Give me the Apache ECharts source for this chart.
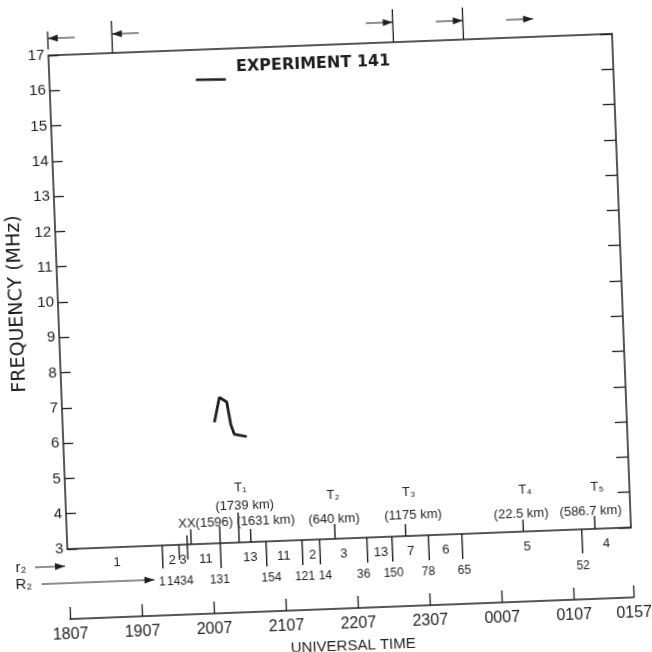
<!DOCTYPE html>
<html><head><meta charset="utf-8">
<script src="https://cdn.jsdelivr.net/npm/echarts@6/dist/echarts.min.js"></script>
<style>
html,body{margin:0;padding:0;background:#fff;overflow:hidden;width:652px;height:652px;position:relative}
#c{position:absolute;left:-24px;top:-24px;width:700px;height:700px;transform:rotate(-2.2deg);transform-origin:350px 350px;}
</style>
</head><body><div id="c"></div>
<script>
// ---------- DATA (time = minutes after 1807 UT, frequency in MHz) ----------
const timeTicks = [0, 60, 120, 180, 240, 300, 360, 420, 470];
const timeTickLabels = ['1807', '1907', '2007', '2107', '2207', '2307', '0007', '0107', '0157'];
const freqMin = 3, freqMax = 17;

const traceHigh = [[122, 16.15], [147, 16.13]];
const traceLow = [[126.5, 6.43], [131.4, 7.13], [137.4, 6.99], [140.1, 6.34], [142.7, 6.07], [153, 5.99]];

const divTimes = [79, 93, 100, 127.5, 165.6, 195.6, 210.3, 249.7, 270.6, 301.1, 328.9, 428.9];
const divLabelTimes = [78, 87.5, 98.5, 126, 169, 197, 214, 246, 271, 300, 330, 429];
const divLabels = ['1', '14', '34', '131', '154', '121', '14', '36', '150', '78', '65', '52'];

const segLabelTimes = [41, 87, 96, 115, 152, 180, 204, 230, 261, 286, 315, 383, 449];
const segLabels = ['1', '2', '3', '11', '13', '11', '2', '3', '13', '7', '6', '5', '4'];

const upTickTimes = [100, 103.3, 127.5, 143.3, 153.1, 223.3, 282.2, 380.3, 440];

const eventLabelTimes = [116, 146, 149, 166, 223, 223, 286, 289, 383, 379, 443, 437];
const eventLabels = ['XX(1596)', 'T₁', '(1739 km)', '(1631 km)', 'T₂', '(640 km)', 'T₃', '(1175 km)', 'T₄', '(22.5 km)', 'T₅', '(586.7 km)'];

const topMarkTimes = [0, 53.5, 287.8, 346.2, 404.8];
const topMarkDirs = ['left', 'left', 'right', 'right', 'right'];
const topMarkHasTick = [true, true, true, true, false];

const sideArrowTimes = [0, 74];
const sideArrowLabels = ['r₂', 'R₂'];

// ---------- STYLE ----------
const INK = '#1e1e1e';
const FONT = "'Liberation Sans', 'DejaVu Sans', sans-serif";
const divLen = [23, 15, 15, 25, 25, 25, 25, 25, 25, 25, 25, 24];
const upTickLen = [9, 15, 17, 30, 13, 15, 12, 12, 13];
const eventLabelRise = [21, 55, 37, 21, 44, 20, 44, 21, 42, 18, 42, 18];
const topTickSpan = [[6, 24], [0, 32], [0, 33], [0, 32], null];
const topArrowRise = [17, 19, 20, 19, 18];
const sideArrowDrop = [17, 34];
const sideArrowStart = [33, 27];
const sideLabelOffset = [47, 45];

function txt(x, y, text, size, align) {
  return { type: 'text', x: x, y: y, style: { text: text, fill: INK, fontSize: size, fontFamily: FONT, align: align || 'center', verticalAlign: 'middle' } };
}
function arrowHead(tipX, y, dir) {
  const s = dir === 'left' ? 1 : -1;
  return { type: 'polygon', shape: { points: [[tipX, y], [tipX + s * 10, y - 3.5], [tipX + s * 10, y + 3.5]] }, style: { fill: INK } };
}

const chart = echarts.init(document.getElementById('c'), null, { renderer: 'canvas' });
const option = {
  animation: false,
  backgroundColor: '#fff',
  title: {
    text: 'EXPERIMENT 141', left: 265, top: 75,
    textStyle: { fontFamily: "'DejaVu Sans', sans-serif", fontWeight: 'bold', fontSize: 16, color: INK }
  },
  grid: { left: 83, right: 53, top: 69, bottom: 137, outerBoundsMode: 'none', containLabel: false },
  xAxis: [
    {
      type: 'value', min: 0, max: 470, position: 'bottom', offset: 70,
      axisLine: { show: true, onZero: false, lineStyle: { color: INK, width: 1.5 } },
      axisTick: { show: true, inside: true, length: 12, customValues: timeTicks, lineStyle: { color: INK, width: 1.3 } },
      axisLabel: { show: true, customValues: timeTicks, margin: 8, fontSize: 16, fontFamily: FONT, color: INK,
        formatter: v => { const i = timeTicks.indexOf(v); return i >= 0 ? timeTickLabels[i] : ''; } },
      splitLine: { show: false },
      name: 'UNIVERSAL TIME', nameLocation: 'middle', nameGap: 30,
      nameTextStyle: { fontSize: 15, fontFamily: FONT, color: INK }
    },
    {
      type: 'value', min: 0, max: 470, position: 'bottom', offset: 0,
      axisLine: { show: true, onZero: false, lineStyle: { color: INK, width: 1.5 } },
      axisTick: { show: false }, axisLabel: { show: false }, splitLine: { show: false }
    },
    {
      type: 'value', min: 0, max: 470, position: 'top',
      axisLine: { show: true, onZero: false, lineStyle: { color: INK, width: 1.5 } },
      axisTick: { show: false }, axisLabel: { show: false }, splitLine: { show: false }
    }
  ],
  yAxis: [
    {
      type: 'value', min: freqMin, max: freqMax, interval: 1, position: 'left',
      axisLine: { show: true, onZero: false, lineStyle: { color: INK, width: 1.5 } },
      axisTick: { show: true, inside: true, length: 10, lineStyle: { color: INK, width: 1.3 } },
      axisLabel: { show: true, margin: 4, fontSize: 15, fontFamily: FONT, color: INK },
      splitLine: { show: false },
      name: 'FREQUENCY (MHz)', nameLocation: 'middle', nameRotate: 90, nameGap: 20,
      nameTextStyle: { fontSize: 19, fontFamily: "'DejaVu Sans', sans-serif", color: INK }
    },
    {
      type: 'value', min: freqMin, max: freqMax, interval: 1, position: 'right',
      axisLine: { show: true, onZero: false, lineStyle: { color: INK, width: 1.5 } },
      axisTick: { show: true, inside: true, length: 12, lineStyle: { color: INK, width: 1.3 } },
      axisLabel: { show: false }, splitLine: { show: false }
    }
  ],
  series: [
    { type: 'line', data: traceHigh, showSymbol: false, lineStyle: { color: INK, width: 2.5 }, xAxisIndex: 0, yAxisIndex: 0 },
    { type: 'line', data: traceLow, showSymbol: false, lineStyle: { color: INK, width: 2.8 }, xAxisIndex: 0, yAxisIndex: 0 },
    { // segment dividers hanging below the r2 baseline
      type: 'custom', xAxisIndex: 0, yAxisIndex: 0, clip: false, silent: true,
      data: divTimes.map(t => [t, freqMin]),
      renderItem: (params, api) => {
        const p = api.coord([api.value(0), freqMin]);
        return { type: 'line', shape: { x1: p[0], y1: p[1], x2: p[0], y2: p[1] + divLen[params.dataIndex] }, style: { stroke: INK, lineWidth: 1.4 } };
      }
    },
    { // labels under dividers
      type: 'custom', xAxisIndex: 0, yAxisIndex: 0, clip: false, silent: true,
      data: divLabelTimes.map(t => [t, freqMin]),
      renderItem: (params, api) => {
        const p = api.coord([api.value(0), freqMin]);
        return txt(p[0], p[1] + 37, divLabels[params.dataIndex], 12);
      }
    },
    { // labels within segments
      type: 'custom', xAxisIndex: 0, yAxisIndex: 0, clip: false, silent: true,
      data: segLabelTimes.map(t => [t, freqMin]),
      renderItem: (params, api) => {
        const p = api.coord([api.value(0), freqMin]);
        return txt(p[0], p[1] + 15, segLabels[params.dataIndex], 13);
      }
    },
    { // upward event ticks
      type: 'custom', xAxisIndex: 0, yAxisIndex: 0, clip: false, silent: true,
      data: upTickTimes.map(t => [t, freqMin]),
      renderItem: (params, api) => {
        const p = api.coord([api.value(0), freqMin]);
        return { type: 'line', shape: { x1: p[0], y1: p[1], x2: p[0], y2: p[1] - upTickLen[params.dataIndex] }, style: { stroke: INK, lineWidth: 1.4 } };
      }
    },
    { // event labels (T1..T5, distances)
      type: 'custom', xAxisIndex: 0, yAxisIndex: 0, clip: false, silent: true,
      data: eventLabelTimes.map(t => [t, freqMin]),
      renderItem: (params, api) => {
        const p = api.coord([api.value(0), freqMin]);
        return txt(p[0], p[1] - eventLabelRise[params.dataIndex], eventLabels[params.dataIndex], 13);
      }
    },
    { // top markers with arrows
      type: 'custom', xAxisIndex: 0, yAxisIndex: 0, clip: false, silent: true,
      data: topMarkTimes.map(t => [t, freqMax]),
      renderItem: (params, api) => {
        const i = params.dataIndex;
        const p = api.coord([api.value(0), freqMax]);
        const ch = [];
        const span = topTickSpan[i];
        if (topMarkHasTick[i] && span) {
          ch.push({ type: 'line', shape: { x1: p[0], y1: p[1] - span[0], x2: p[0], y2: p[1] - span[1] }, style: { stroke: INK, lineWidth: 1.3 } });
        }
        const y = p[1] - topArrowRise[i];
        const dir = topMarkDirs[i];
        const tail = dir === 'left' ? p[0] + 27 : p[0] - 27;
        ch.push({ type: 'line', shape: { x1: p[0], y1: y, x2: tail, y2: y }, style: { stroke: INK, lineWidth: 1 } });
        ch.push(arrowHead(p[0], y, dir));
        return { type: 'group', children: ch };
      }
    },
    { // r2 / R2 side arrows
      type: 'custom', xAxisIndex: 0, yAxisIndex: 0, clip: false, silent: true,
      data: sideArrowTimes.map(t => [t, freqMin]),
      renderItem: (params, api) => {
        const i = params.dataIndex;
        const p = api.coord([api.value(0), freqMin]);
        const axisX = api.coord([0, freqMin])[0];
        const y = p[1] + sideArrowDrop[i];
        const tip = p[0] - 3;
        return { type: 'group', children: [
          { type: 'line', shape: { x1: axisX - sideArrowStart[i], y1: y, x2: tip, y2: y }, style: { stroke: INK, lineWidth: 1 } },
          arrowHead(tip, y, 'right'),
          txt(axisX - sideLabelOffset[i], y, sideArrowLabels[i], 15)
        ] };
      }
    }
  ]
};
chart.setOption(option);
</script>
</body></html>
